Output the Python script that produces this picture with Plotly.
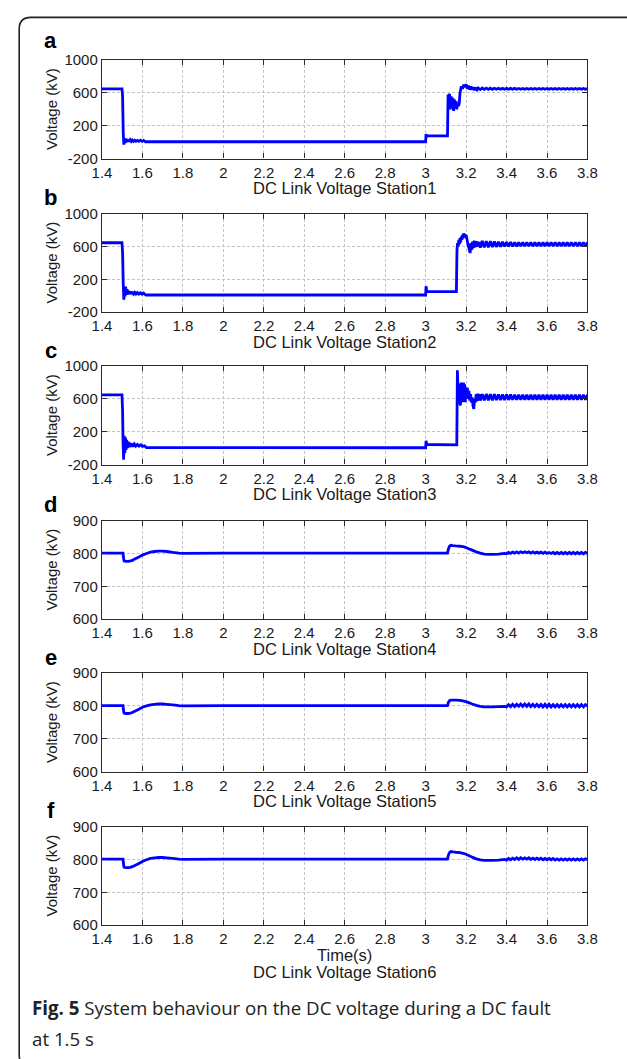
import plotly.graph_objects as go

# ---------------- data ----------------
# shared tail time grids
t_tail = [3.27, 3.28, 3.29, 3.30, 3.31, 3.32, 3.33, 3.34, 3.35, 3.36,
          3.37, 3.38, 3.39, 3.40, 3.41, 3.42, 3.43, 3.44, 3.45, 3.46,
          3.47, 3.48, 3.49, 3.50, 3.51, 3.52, 3.53, 3.54, 3.55, 3.56,
          3.57, 3.58, 3.59, 3.60, 3.61, 3.62, 3.63, 3.64, 3.65, 3.66,
          3.67, 3.68, 3.69, 3.70, 3.71, 3.72, 3.73, 3.74, 3.75, 3.76,
          3.77, 3.78, 3.79, 3.80]
t_tail2 = [3.40, 3.41, 3.42, 3.43, 3.44, 3.45, 3.46, 3.47, 3.48, 3.49,
           3.50, 3.51, 3.52, 3.53, 3.54, 3.55, 3.56, 3.57, 3.58, 3.59,
           3.60, 3.61, 3.62, 3.63, 3.64, 3.65, 3.66, 3.67, 3.68, 3.69,
           3.70, 3.71, 3.72, 3.73, 3.74, 3.75, 3.76, 3.77, 3.78, 3.79,
           3.80]

# Station 1
t_a = [1.400, 1.499, 1.502, 1.505, 1.508, 1.511, 1.514, 1.517, 1.520, 1.524,
       1.528, 1.532, 1.536, 1.540, 1.545, 1.550, 1.556, 1.562, 1.568, 1.575,
       1.582, 1.590, 1.598, 1.606, 1.615,
       3.000, 3.002, 3.005, 3.010, 3.108, 3.111, 3.114, 3.118,
       3.122, 3.126, 3.130, 3.134, 3.138, 3.142, 3.146, 3.150, 3.154, 3.158,
       3.162, 3.166, 3.170,
       3.176, 3.182, 3.188, 3.194, 3.200, 3.206, 3.212, 3.218, 3.224, 3.230,
       3.236, 3.242, 3.248, 3.254, 3.260]
v_a = [650, 650, 560, 120, -30, 40, -10, 45, 0, 35,
       5, 30, 8, 28, 10, 25, 10, 22, 10, 22,
       10, 24, 10, 22, 5,
       5, 100, 70, 76, 76, 580, 520, 590,
       400, 560, 420, 540, 380, 520, 430, 500, 400, 480,
       440, 470, 600,
       680, 650, 700, 670, 705, 650, 690, 640, 680, 640,
       670, 635, 665, 640, 660]
v_a_tail = [642, 660, 643, 659, 644, 658, 644, 657, 645, 657,
            645, 656, 645, 656, 645, 656, 645, 656, 646, 655,
            646, 655, 646, 655, 646, 655, 646, 655, 646, 655,
            646, 655, 646, 655, 646, 655, 646, 655, 646, 655,
            646, 655, 646, 655, 646, 655, 646, 655, 646, 655,
            646, 655, 646, 655]

# Station 2
t_b = [1.400, 1.499, 1.502, 1.505, 1.508, 1.511, 1.514, 1.517, 1.520, 1.524,
       1.528, 1.532, 1.536, 1.540, 1.545, 1.550, 1.556, 1.562, 1.568, 1.575,
       1.582, 1.590, 1.598, 1.606, 1.612, 1.618,
       3.000, 3.002, 3.005, 3.010,
       3.152, 3.155, 3.158, 3.161, 3.164, 3.167, 3.170, 3.173, 3.176, 3.179,
       3.182, 3.185, 3.188, 3.191, 3.194, 3.197, 3.200,
       3.204, 3.208, 3.212, 3.216, 3.220, 3.224, 3.228, 3.232, 3.236, 3.240,
       3.244, 3.248, 3.252, 3.256, 3.260, 3.265]
v_b = [645, 645, 520, 160, -50, 60, -10, 110, 10, 80,
       15, 60, 20, 50, 20, 45, 20, 40, 20, 38,
       20, 35, 18, 32, 15, 8,
       8, 115, 60, 48,
       48, 560, 640, 600, 680, 630, 700, 650, 720, 680,
       740, 700, 760, 720, 750, 710, 740,
       690, 640, 600, 560, 520, 640, 560, 660, 580, 670,
       590, 665, 595, 660, 600, 655]
v_b_tail = [585, 668, 588, 665, 590, 663, 593, 660, 595, 658,
            597, 656, 599, 654, 600, 652, 601, 651, 602, 650,
            604, 648, 604, 648, 604, 648, 604, 648, 604, 648,
            604, 648, 604, 648, 604, 648, 604, 648, 604, 648,
            604, 648, 604, 648, 604, 648, 604, 648, 604, 648,
            604, 648, 604, 648]

# Station 3
t_c = [1.400, 1.499, 1.502, 1.504, 1.507, 1.510, 1.513, 1.516, 1.519, 1.522,
       1.526, 1.530, 1.534, 1.538, 1.543, 1.548, 1.554, 1.560, 1.567, 1.575,
       1.583, 1.592, 1.600, 1.610, 1.620,
       3.000, 3.002, 3.005, 3.010,
       3.154, 3.157, 3.160, 3.163, 3.166, 3.169, 3.172, 3.175, 3.178, 3.181,
       3.184, 3.187, 3.190, 3.193, 3.196, 3.199, 3.202,
       3.206, 3.210, 3.214, 3.218, 3.222, 3.226, 3.230, 3.234, 3.238, 3.242,
       3.246, 3.250, 3.254, 3.258, 3.262, 3.266]
v_c = [650, 650, 450, 100, -140, 150, -60, 130, -20, 100,
       0, 80, 10, 65, 15, 55, 20, 50, 25, 45,
       25, 40, 22, 30, 8,
       5, 90, 55, 45,
       40, 950, 700, 540, 780, 600, 520, 800, 640, 760,
       560, 800, 620, 780, 560, 720, 600,
       740, 600, 700, 580, 660, 560, 620, 520, 480, 600,
       560, 660, 575, 665, 580, 660]
v_c_tail = [580, 660, 582, 660, 584, 658, 585, 657, 586, 656,
            587, 655, 588, 654, 589, 653, 590, 652, 590, 652,
            592, 650, 592, 650, 592, 650, 592, 650, 592, 650,
            592, 650, 592, 650, 592, 650, 592, 650, 592, 650,
            592, 650, 592, 650, 592, 650, 592, 650, 592, 650,
            592, 650, 592, 650]

# Stations 4-6 share the same time breakpoints
t_def = [1.400, 1.504, 1.506, 1.508, 1.510, 1.520, 1.530, 1.540, 1.550, 1.560,
         1.580, 1.600, 1.620, 1.640, 1.660, 1.680, 1.700, 1.720, 1.750, 1.780,
         1.800, 2.000, 2.500, 3.108, 3.112, 3.118, 3.125, 3.135, 3.150, 3.170,
         3.190, 3.210, 3.230, 3.250, 3.270, 3.290, 3.310, 3.330, 3.360, 3.390]
v_d = [801, 801, 790, 780, 777, 776, 776, 777, 779, 782,
       788, 795, 800, 804, 806, 807, 807, 806, 803, 801,
       800, 801, 801, 801, 812, 822, 825, 824, 823, 822,
       820, 815, 810, 805, 801, 798, 797, 797, 798, 800]
v_d_tail = [799, 803, 800, 804, 801, 805, 801, 805, 802, 805,
            802, 805, 801, 805, 801, 804, 801, 804, 800, 804,
            800, 803, 800, 803, 799, 803, 799, 803, 799, 803,
            799, 803, 799, 803, 799, 803, 799, 803, 799, 803,
            800]
v_e = [801, 801, 790, 780, 778, 777, 777, 778, 780, 783,
       789, 796, 800, 803, 805, 806, 806, 805, 803, 801,
       800, 801, 801, 801, 810, 816, 818, 818, 818, 817,
       815, 811, 806, 802, 799, 797, 797, 797, 798, 799]
v_e_tail = [797, 804, 798, 805, 798, 805, 799, 806, 799, 806,
            799, 806, 798, 805, 798, 805, 798, 805, 797, 805,
            797, 805, 797, 804, 797, 804, 797, 804, 797, 804,
            797, 804, 797, 804, 797, 804, 797, 804, 797, 804,
            800]
v_f = [801, 801, 790, 779, 776, 775, 775, 776, 778, 781,
       787, 794, 799, 803, 805, 806, 806, 805, 803, 801,
       800, 801, 801, 801, 812, 821, 824, 823, 822, 821,
       818, 813, 807, 802, 799, 797, 797, 797, 798, 800]
v_f_tail = [798, 803, 799, 804, 800, 805, 800, 805, 801, 805,
            801, 805, 800, 804, 800, 804, 800, 804, 799, 803,
            799, 803, 799, 803, 798, 802, 798, 802, 798, 802,
            798, 802, 798, 802, 798, 802, 798, 802, 798, 802,
            800]

panel_letters = ["a", "b", "c", "d", "e", "f"]
titles = ["DC Link Voltage Station1", "DC Link Voltage Station2",
          "DC Link Voltage Station3", "DC Link Voltage Station4",
          "DC Link Voltage Station5", "DC Link Voltage Station6"]
x_ticks = [1.4, 1.6, 1.8, 2.0, 2.2, 2.4, 2.6, 2.8, 3.0, 3.2, 3.4, 3.6, 3.8]
x_ticktext = ["1.4", "1.6", "1.8", "2", "2.2", "2.4", "2.6", "2.8", "3",
              "3.2", "3.4", "3.6", "3.8"]
y_ticks_hi = [-200, 200, 600, 1000]
y_ticktext_hi = ["-200", "200", "600", "1000"]
y_ticks_lo = [600, 700, 800, 900]
y_ticktext_lo = ["600", "700", "800", "900"]
caption_bold = "Fig. 5"
caption_1 = " System behaviour on the DC voltage during a DC fault"
caption_2 = "at 1.5 s"

series = [
    (t_a + t_tail, v_a + v_a_tail),
    (t_b + t_tail, v_b + v_b_tail),
    (t_c + t_tail, v_c + v_c_tail),
    (t_def + t_tail2, v_d + v_d_tail),
    (t_def + t_tail2, v_e + v_e_tail),
    (t_def + t_tail2, v_f + v_f_tail),
]

# ---------------- layout ----------------
W, H = 627, 1059
tops = [52, 208, 363, 520, 675, 831]
ph = 100
xl, xr = 95, 596.5

def py(p):
    return 1 - p / H

fig = go.Figure()
FONT = "Liberation Sans, Arial, sans-serif"
annotations = []
for i, (tt, vv) in enumerate(series):
    n = "" if i == 0 else str(i + 1)
    fig.add_trace(go.Scatter(x=tt, y=vv, mode="lines", xaxis="x" + n, yaxis="y" + n,
                             line=dict(color="#0000ff", width=2.8, simplify=False),
                             showlegend=False, hoverinfo="skip"))
    top = tops[i]
    bot = top + ph
    common = dict(showline=True, linecolor="#2a2a2a", linewidth=1.4, mirror="ticks",
                  ticks="inside", ticklen=5, tickcolor="#2a2a2a", tickwidth=1,
                  showgrid=True, gridcolor="#c4c4c4", gridwidth=1, griddash="3px,2px",
                  zeroline=False, tickfont=dict(family=FONT, size=15, color="#1a1a1a"))
    fig.update_layout(**{
        "xaxis" + n: dict(domain=[xl / W, xr / W], range=[1.4, 3.8], tickvals=x_ticks,
                          ticktext=x_ticktext, anchor="y" + n, **common),
        "yaxis" + n: dict(domain=[py(bot), py(top)],
                          range=[-200, 1000] if i < 3 else [600, 900],
                          tickvals=y_ticks_hi if i < 3 else y_ticks_lo,
                          ticktext=y_ticktext_hi if i < 3 else y_ticktext_lo,
                          anchor="x" + n, **common),
    })
    annotations.append(dict(text="<b>" + panel_letters[i] + "</b>", x=42 / W,
                            y=py(top - (20 if i == 0 else 16)),
                            xref="paper", yref="paper", showarrow=False, xanchor="center",
                            yanchor="middle", font=dict(family=FONT, size=22, color="#000")))
    annotations.append(dict(text="Voltage (kV)", x=43 / W, y=py(top + ph / 2), textangle=-90,
                            xref="paper", yref="paper", showarrow=False, xanchor="center",
                            yanchor="middle", font=dict(family=FONT, size=15, color="#1a1a1a")))
    cx = (xl + xr) / 2 / W
    if i < 5:
        annotations.append(dict(text=titles[i], x=cx, y=py(bot + 30), xref="paper",
                                yref="paper", showarrow=False, xanchor="center", yanchor="middle",
                                font=dict(family=FONT, size=16.5, color="#1a1a1a")))
    else:
        annotations.append(dict(text="Time(s)", x=cx, y=py(bot + 30), xref="paper",
                                yref="paper", showarrow=False, xanchor="center", yanchor="middle",
                                font=dict(family=FONT, size=16.5, color="#1a1a1a")))
        annotations.append(dict(text=titles[i], x=cx, y=py(bot + 48), xref="paper",
                                yref="paper", showarrow=False, xanchor="center", yanchor="middle",
                                font=dict(family=FONT, size=16.5, color="#1a1a1a")))

CAP = "Open Sans, Noto Sans, sans-serif"
annotations.append(dict(text="<b>" + caption_bold + "</b>" + caption_1, x=21 / W, y=py(1015),
                        xref="paper", yref="paper", showarrow=False, xanchor="left",
                        yanchor="middle", font=dict(family=CAP, size=18.7, color="#222")))
annotations.append(dict(text=caption_2, x=21 / W, y=py(1046),
                        xref="paper", yref="paper", showarrow=False, xanchor="left",
                        yanchor="middle", font=dict(family=CAP, size=18.7, color="#222")))

# rounded figure frame (right and bottom sides fall outside the canvas)
L, T, B, R = 9.5, 8.5, 1075, 12
px = lambda v: v / W
path = (f"M {px(700)},{py(T)} L {px(L + R)},{py(T)} Q {px(L)},{py(T)} {px(L)},{py(T + R)} "
        f"L {px(L)},{py(B - R)} Q {px(L)},{py(B)} {px(L + R)},{py(B)} L {px(700)},{py(B)}")
fig.add_shape(type="path", path=path, xref="paper", yref="paper",
              line=dict(color="#222", width=1.6))

fig.update_layout(width=W, height=H, margin=dict(l=0, r=0, t=0, b=0),
                  paper_bgcolor="white", plot_bgcolor="white",
                  annotations=annotations)

fig.write_html("out.html")
